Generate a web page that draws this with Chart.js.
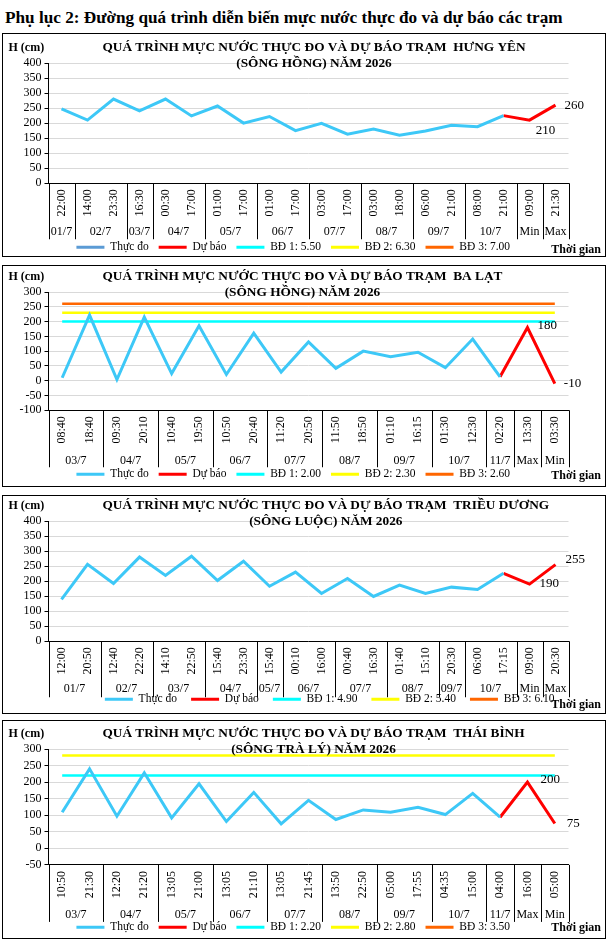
<!DOCTYPE html>
<html>
<head>
<meta charset="utf-8">
<script src="https://cdn.jsdelivr.net/npm/chart.js@4.4.0/dist/chart.umd.min.js"></script>
<style>
body { margin: 0; background: #fff; width: 609px; height: 946px; position: relative; overflow: hidden; font-family: 'Liberation Serif', serif; }
h1 { position: absolute; left: 5px; top: 7px; margin: 0; font-size: 17.2px; line-height: 22px; font-weight: bold; white-space: nowrap; }
.box { position: absolute; left: 2px; width: 604px; border: 1.5px solid #000; box-sizing: border-box; }
canvas { position: absolute; left: 3.5px; }
</style>
</head>
<body>
<h1>Phụ lục 2: Đường quá trình diễn biến mực nước thực đo và dự báo các trạm</h1>
<div class="box" style="top:33px;height:224px"></div>
<div class="box" style="top:265px;height:222px"></div>
<div class="box" style="top:495px;height:219px"></div>
<div class="box" style="top:720px;height:219px"></div>
<canvas id="c1"></canvas>
<canvas id="c2"></canvas>
<canvas id="c3"></canvas>
<canvas id="c4"></canvas>
<script>
// Hưng Yên (sông Hồng)
const hyTimes = ['22:00','14:00','23:30','16:30','00:30','17:00','01:00','17:00','01:00','17:00','03:00','17:00','03:00','18:00','06:00','21:00','08:00','21:00','09:00','21:30'];
const hyDays = ['01/7','02/7','02/7','03/7','04/7','04/7','05/7','05/7','06/7','06/7','07/7','07/7','08/7','08/7','09/7','09/7','10/7','10/7','Min','Max'];
const hyObserved = [247,210,280,241,280,224,257,200,222,175,199,163,180,160,174,193,188,225,null,null];
const hyForecast = [null,null,null,null,null,null,null,null,null,null,null,null,null,null,null,null,null,225,210,260];
const hyAlarms = [550,630,700];

// Ba Lạt (sông Hồng)
const blTimes = ['08:40','18:40','09:30','20:10','10:40','19:50','10:50','20:40','11:20','20:50','11:50','18:50','01:10','16:15','01:30','12:30','02:20','13:30','03:30'];
const blDays = ['03/7','03/7','04/7','04/7','05/7','05/7','06/7','06/7','07/7','07/7','08/7','08/7','09/7','09/7','10/7','10/7','11/7','Max','Min'];
const blObserved = [10,222,4,215,24,186,21,161,29,131,42,100,81,96,44,141,13,null,null];
const blForecast = [null,null,null,null,null,null,null,null,null,null,null,null,null,null,null,null,13,180,-10];
const blAlarms = [200,230,260];

// Triều Dương (sông Luộc)
const tdTimes = ['12:00','20:50','12:40','22:20','14:10','22:50','15:40','23:30','15:40','00:10','16:00','00:40','16:30','01:40','15:10','20:30','06:00','17:15','09:00','20:30'];
const tdDays = ['01/7','01/7','02/7','02/7','03/7','03/7','04/7','04/7','05/7','06/7','06/7','07/7','07/7','08/7','08/7','09/7','10/7','10/7','Min','Max'];
const tdObserved = [139,256,192,280,219,283,202,266,183,230,159,209,149,187,159,180,172,226,null,null];
const tdForecast = [null,null,null,null,null,null,null,null,null,null,null,null,null,null,null,null,null,226,190,255];
const tdAlarms = [490,540,610];

// Thái Bình (sông Trà Lý)
const tbTimes = ['10:50','21:30','12:20','21:20','13:05','21:00','13:05','21:10','13:05','21:45','13:50','22:50','05:00','17:55','04:35','15:00','04:00','16:00','05:00'];
const tbDays = ['03/7','03/7','04/7','04/7','05/7','05/7','06/7','06/7','07/7','07/7','08/7','08/7','09/7','09/7','10/7','10/7','11/7','Max','Min'];
const tbObserved = [109,240,97,228,92,195,81,169,74,145,87,116,109,124,102,166,94,null,null];
const tbForecast = [null,null,null,null,null,null,null,null,null,null,null,null,null,null,null,null,94,200,75];
const tbAlarms = [220,280,350];

const OBS = '#3DC8F7';
const FC = '#FF0000';
const BD = ['#00FFFF', '#FFFF00', '#FF6600'];
const LEGEND_FONT = 11.5;

Chart.defaults.font.family = "'Liberation Serif', 'Times New Roman', serif";
Chart.defaults.font.size = 12;
Chart.defaults.color = '#000';

function framePlugin(c) {
    return {
        id: 'frame',
        afterDraw(chart) {
            const ctx = chart.ctx;
            const a = chart.chartArea;
            const x = chart.scales.x;
            const n = c.days.length;
            const edge = i => i === 0 ? a.left : i === n ? a.right : (x.getPixelForValue(i - 1) + x.getPixelForValue(i)) / 2;
            const vline = px => {
                const xx = Math.round(px) + 0.5;
                ctx.beginPath();
                ctx.moveTo(xx, a.bottom);
                ctx.lineTo(xx, a.bottom + c.sepLen);
                ctx.stroke();
            };
            ctx.save();
            ctx.strokeStyle = '#000';
            ctx.fillStyle = '#000';
            ctx.lineWidth = 1;
            ctx.font = "12px 'Liberation Serif'";
            ctx.textAlign = 'center';
            ctx.textBaseline = 'middle';

            // day groups under the times
            let s = 0;
            for (let i = 1; i <= n; i++) {
                if (i < n && c.days[i] === c.days[s]) continue;
                const x0 = edge(s), x1 = edge(i);
                vline(x0);
                ctx.fillText(c.days[s], (x0 + x1) / 2, a.bottom + c.dayY);
                s = i;
            }
            vline(a.right);

            // forecast values
            const meta = chart.getDatasetMeta(1);
            ctx.font = "13px 'Liberation Serif'";
            c.marks.forEach(m => {
                const p = meta.data[m.i];
                ctx.textAlign = m.align;
                ctx.fillText(String(c.forecast[m.i]), p.x + m.dx, p.y + m.dy);
            });

            // titles
            ctx.font = "bold 12px 'Liberation Serif'";
            ctx.textAlign = 'left';
            ctx.fillText('H (cm)', 4.5, a.top - 15);
            ctx.fillText('Thời gian', 597 - ctx.measureText('Thời gian').width, a.bottom + c.unitY);
            ctx.font = "bold 13.3px 'Liberation Serif'";
            const w = ctx.measureText(c.title1).width;
            ctx.textAlign = 'center';
            ctx.fillText(c.title1, 98.5 + w / 2, a.top - 15);
            ctx.fillText(c.title2, 98.5 + w / 2, a.top + 0.5);
            ctx.restore();
        }
    };
}

function makeChart(id, c) {
    const cv = document.getElementById(id);
    const legendH = LEGEND_FONT + c.legendPad + 10;
    const h = Math.round(c.padTop + c.plotH + c.xH + legendH);
    cv.width = 601;
    cv.height = h;
    cv.style.top = (c.boxTop + 1.5) + 'px';

    const datasets = [
        { label: 'Thực đo', data: c.observed, borderColor: OBS, legendColor: c.obsLegend || OBS, borderWidth: 3 },
        { label: 'Dự báo', data: c.forecast, borderColor: FC, borderWidth: 3 }
    ];
    c.alarms.forEach((v, i) => {
        datasets.push({
            label: 'BĐ ' + (i + 1) + ': ' + (v / 100).toFixed(2),
            data: c.times.map(() => v),
            borderColor: BD[i],
            borderWidth: 2.5
        });
    });

    return new Chart(cv, {
        type: 'line',
        data: { labels: c.times, datasets: datasets },
        options: {
            responsive: false,
            animation: false,
            layout: { padding: { top: c.padTop, right: 36.5, left: 14, bottom: 0 } },
            elements: { point: { radius: 0 }, line: { tension: 0 } },
            plugins: {
                title: { display: false },
                tooltip: { enabled: false },
                legend: {
                    position: 'bottom',
                    align: c.legendAlign,
                    labels: {
                        boxWidth: 28,
                        boxHeight: 3,
                        padding: c.legendPad,
                        color: '#000',
                        font: { size: LEGEND_FONT },
                        generateLabels: chart => chart.data.datasets.map((d, i) => ({
                            text: d.label,
                            fillStyle: d.legendColor || d.borderColor,
                            strokeStyle: d.legendColor || d.borderColor,
                            lineWidth: 0,
                            hidden: false,
                            datasetIndex: i
                        }))
                    }
                }
            },
            scales: {
                x: {
                    offset: true,
                    grid: { display: false, drawTicks: false },
                    border: { color: '#000' },
                    ticks: { autoSkip: false, minRotation: 90, maxRotation: 90, padding: 6, color: '#000', font: { size: 12 } },
                    afterFit: s => { s.height = c.xH; }
                },
                y: {
                    min: c.yMin,
                    max: c.yMax,
                    grid: { color: '#d9d9d9', tickColor: '#000', tickLength: 4 },
                    border: { color: '#000' },
                    ticks: { stepSize: 50, autoSkip: false, padding: 3, color: '#000', font: { size: 12 } },
                    afterFit: s => { s.width = 30.5; }
                }
            }
        },
        plugins: [framePlugin(c)]
    });
}

makeChart('c1', {
    boxTop: 33, padTop: 28, plotH: 120, xH: 48.25, legendPad: 10, legendAlign: 'center',
    times: hyTimes, days: hyDays, observed: hyObserved, forecast: hyForecast, alarms: hyAlarms,
    yMin: 0, yMax: 400, obsLegend: '#5B9BD5',
    title1: 'QUÁ TRÌNH MỰC NƯỚC THỰC ĐO VÀ DỰ BÁO TRẠM  HƯNG YÊN',
    title2: '(SÔNG HỒNG) NĂM 2026',
    dayY: 49, sepLen: 56, unitY: 67,
    marks: [{ i: 18, dx: 16, dy: 10, align: 'center' }, { i: 19, dx: 9, dy: 0, align: 'left' }]
});

makeChart('c2', {
    boxTop: 265, padTop: 25, plotH: 118, xH: 48.25, legendPad: 10, legendAlign: 'center',
    times: blTimes, days: blDays, observed: blObserved, forecast: blForecast, alarms: blAlarms,
    yMin: -100, yMax: 300,
    title1: 'QUÁ TRÌNH MỰC NƯỚC THỰC ĐO VÀ DỰ BÁO TRẠM  BA LẠT',
    title2: '(SÔNG HỒNG) NĂM 2026',
    dayY: 50.5, sepLen: 57, unitY: 66,
    marks: [{ i: 17, dx: 10, dy: -2, align: 'left' }, { i: 18, dx: 9, dy: 0, align: 'left' }]
});

makeChart('c3', {
    boxTop: 495, padTop: 24, plotH: 120, xH: 38.25, legendPad: 14, legendAlign: 'end',
    times: tdTimes, days: tdDays, observed: tdObserved, forecast: tdForecast, alarms: tdAlarms,
    yMin: 0, yMax: 400,
    title1: 'QUÁ TRÌNH MỰC NƯỚC THỰC ĐO VÀ DỰ BÁO TRẠM  TRIỀU DƯƠNG',
    title2: '(SÔNG LUỘC) NĂM 2026',
    dayY: 48, sepLen: 56, unitY: 64,
    marks: [{ i: 18, dx: 10, dy: -1, align: 'left' }, { i: 19, dx: 10, dy: -5, align: 'left' }]
});

makeChart('c4', {
    boxTop: 720, padTop: 27, plotH: 116, xH: 46.6, legendPad: 10, legendAlign: 'center',
    times: tbTimes, days: tbDays, observed: tbObserved, forecast: tbForecast, alarms: tbAlarms,
    yMin: -50, yMax: 300,
    title1: 'QUÁ TRÌNH MỰC NƯỚC THỰC ĐO VÀ DỰ BÁO TRẠM  THÁI BÌNH',
    title2: '(SÔNG TRÀ LÝ) NĂM 2026',
    dayY: 49.5, sepLen: 57, unitY: 63.5,
    marks: [{ i: 17, dx: 13, dy: -3, align: 'left' }, { i: 18, dx: 12, dy: 0, align: 'left' }]
});
</script>
</body>
</html>
